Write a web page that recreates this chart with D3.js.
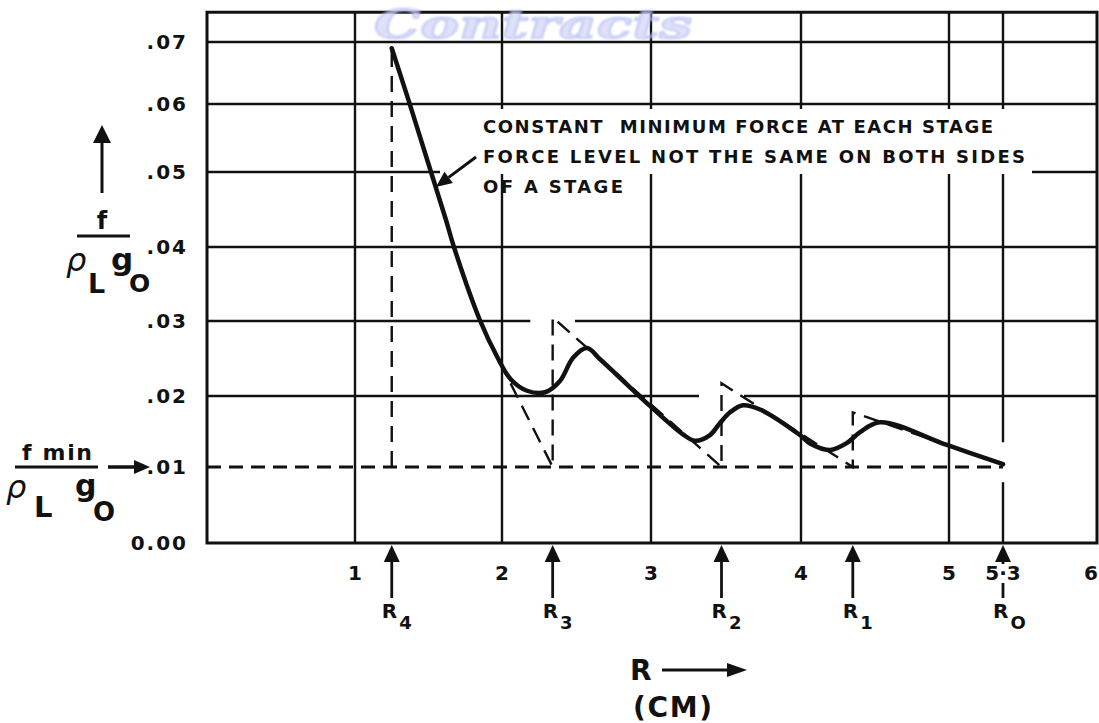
<!DOCTYPE html>
<html>
<head>
<meta charset="utf-8">
<script src="https://cdn.jsdelivr.net/npm/d3@7"></script>
<style>
  html, body { margin: 0; padding: 0; background: #fff; }
  svg { display: block; }
  text { font-family: "DejaVu Sans", sans-serif; font-weight: bold; fill: #111; }
</style>
</head>
<body>
<svg id="chart" width="1099" height="723"></svg>
<script>
// Radius axis (cm): ruled lines and their labels
const rTicks = [0, 1, 2, 3, 4, 5, 5.3, 6];
const rTickLabels = ["", "1", "2", "3", "4", "5", "5·3", "6"];
// Force-ratio axis f / (rho_L g0)
const fTicks = [0, 0.01, 0.02, 0.03, 0.04, 0.05, 0.06, 0.07];
const fTickLabels = ["0.00", ".01", ".02", ".03", ".04", ".05", ".06", ".07"];
const fTop = 0.0748;
const fMin = 0.01;

// Stage boundaries R4 ... R0 and the ideal peak force just past each one
const stageSubs = ["4", "3", "2", "1", "O"];
const stageR = [1.25, 2.34, 3.47, 4.35, 5.3];
const stagePeak = [0.069, 0.0305, 0.0217, 0.0177, null];

// Smoothed force curve
const curveR = [1.25, 1.371, 1.517, 1.619, 1.673, 1.85, 1.973, 2.06, 2.168, 2.289, 2.389, 2.477, 2.57, 2.658, 2.772, 2.993, 3.213, 3.293, 3.393, 3.46, 3.527, 3.613, 3.727, 3.993, 4.061, 4.196, 4.311, 4.399, 4.534, 4.986, 5.3];
const curveF = [0.069, 0.0601, 0.05, 0.0436, 0.04, 0.0301, 0.025, 0.0222, 0.0207, 0.0205, 0.022, 0.0251, 0.0264, 0.0249, 0.0228, 0.0186, 0.0146, 0.0137, 0.0145, 0.0162, 0.0177, 0.0187, 0.0181, 0.0145, 0.0133, 0.0124, 0.0134, 0.0149, 0.0163, 0.0131, 0.0104];

// Ideal sawtooth profile: constant minimum force at each stage
const idealR = [1.25, 1.25, 1.371, 1.517, 1.619, 1.673, 1.85, 1.973, 2.34, 2.34, 3.47, 3.47, 4.35, 4.35, 5.3];
const idealF = [0.01, 0.069, 0.0601, 0.05, 0.0436, 0.04, 0.0301, 0.025, 0.01, 0.0305, 0.01, 0.0217, 0.01, 0.0177, 0.0104];

// Annotation
const noteLines = ["CONSTANT  MINIMUM FORCE AT EACH STAGE", "FORCE LEVEL NOT THE SAME ON BOTH SIDES", "OF A STAGE"];
const noteTarget = [1.55, 0.048];

const svg = d3.select("#chart");
const ink = "#111";

// hand-ruled grid: each ruled line sits at its own measured position
const x = d3.scaleLinear().domain(rTicks).range([207, 355, 502, 651, 801, 949, 1003, 1097]);
const y = d3.scaleLinear().domain(fTicks).range([543, 467, 396, 321, 247, 172, 104, 42]);

const grid = svg.append("g").attr("stroke", ink).attr("stroke-width", 2.4).attr("fill", "none");

// horizontal rulings, broken where a stage peak pokes just above them
const gapHalf = 0.15;
fTicks.filter(f => f > 0 && f !== fMin).forEach(f => {
  const cuts = stageR
    .map((r, i) => ({ r, p: stagePeak[i] }))
    .filter(d => d.p != null && d.p > f && d.p - f < 0.003)
    .map(d => [d.r - gapHalf, d.r + gapHalf])
    .sort((a, b) => a[0] - b[0]);
  const segs = [];
  let start = 0;
  cuts.forEach(c => { segs.push([start, c[0]]); start = c[1]; });
  segs.push([start, 6]);
  segs.forEach(s => {
    grid.append("line")
      .attr("x1", x(s[0])).attr("x2", x(s[1]))
      .attr("y1", y(f)).attr("y2", y(f));
  });
});

// vertical rulings; the R0 line opens up where the curve ends on it
rTicks.filter(r => r > 0 && r < 6).forEach(r => {
  const isStage = stageR.includes(r);
  const segs = isStage ? [[0, fMin - 0.002], [fMin + 0.0035, fTop]] : [[0, fTop]];
  segs.forEach(s => {
    grid.append("line")
      .attr("x1", x(r)).attr("x2", x(r))
      .attr("y1", y(s[0])).attr("y2", y(s[1]));
  });
});

// frame
svg.append("rect")
  .attr("x", x(0)).attr("y", y(fTop))
  .attr("width", x(6) - x(0)).attr("height", y(0) - y(fTop))
  .attr("fill", "none").attr("stroke", ink).attr("stroke-width", 3);

// clear space for the note
svg.append("rect")
  .attr("x", 440).attr("y", y(0.06) + 5)
  .attr("width", 592).attr("height", y(0.05) - y(0.06) - 3)
  .attr("fill", "#fff");

// stamped watermark
svg.append("text")
  .attr("x", 374).attr("y", 38)
  .attr("textLength", 318).attr("lengthAdjust", "spacingAndGlyphs")
  .style("font-family", "'DejaVu Serif', serif")
  .style("font-style", "italic")
  .style("font-size", "40px")
  .style("fill", "#d3d7f8")
  .style("stroke", "#a7b0f0")
  .style("stroke-width", 1.3)
  .style("opacity", 0.75)
  .style("filter", "blur(1px)")
  .text("Contracts");

// minimum-force level
svg.append("line")
  .attr("x1", x(0)).attr("x2", x(stageR[stageR.length - 1]))
  .attr("y1", y(fMin)).attr("y2", y(fMin))
  .attr("stroke", ink).attr("stroke-width", 2.8)
  .attr("stroke-dasharray", "14,8");

// ideal sawtooth profile
const idealPts = idealR.map((r, i) => [r, idealF[i]]);
svg.append("path")
  .attr("d", d3.line().x(d => x(d[0])).y(d => y(d[1]))(idealPts))
  .attr("fill", "none").attr("stroke", ink).attr("stroke-width", 2.4)
  .attr("stroke-dasharray", "16,9");

// smoothed curve
const curvePts = curveR.map((r, i) => [r, curveF[i]]);
svg.append("path")
  .attr("d", d3.line().x(d => x(d[0])).y(d => y(d[1])).curve(d3.curveCatmullRom.alpha(0.5))(curvePts))
  .attr("fill", "none").attr("stroke", ink).attr("stroke-width", 4.5)
  .attr("stroke-linecap", "round").attr("stroke-linejoin", "round");

// arrow helper
function arrow(x1, y1, x2, y2, head, half, w) {
  const ang = Math.atan2(y2 - y1, x2 - x1);
  const bx = x2 - head * Math.cos(ang), by = y2 - head * Math.sin(ang);
  svg.append("line").attr("x1", x1).attr("y1", y1).attr("x2", bx).attr("y2", by)
    .attr("stroke", ink).attr("stroke-width", w);
  const px = -Math.sin(ang) * half, py = Math.cos(ang) * half;
  svg.append("polygon")
    .attr("points", [[x2, y2], [bx + px, by + py], [bx - px, by - py]].map(p => p.join(",")).join(" "))
    .attr("fill", ink);
}

// note text and pointer
const note = svg.append("g").style("font-size", "18px");
const noteLens = [510, 542, 140];
noteLines.forEach((t, i) => {
  note.append("text")
    .attr("x", 483).attr("y", 133 + i * 30)
    .attr("xml:space", "preserve")
    .style("white-space", "pre")
    .attr("textLength", noteLens[i]).attr("lengthAdjust", "spacing")
    .text(t);
});
arrow(476, 157, x(noteTarget[0]), y(noteTarget[1]), 16, 7, 3);

// force tick labels
svg.append("g").selectAll("text").data(fTicks).join("text")
  .attr("x", 188).attr("y", d => y(d)).attr("dy", "0.36em")
  .attr("text-anchor", "end")
  .style("font-size", "20px").style("letter-spacing", "2px")
  .text((d, i) => fTickLabels[i]);

// stage arrows below the axis
stageR.forEach((r, i) => {
  arrow(x(r), 598, x(r), y(0) + 2, 17, 8, 2.8);
  const t = svg.append("text")
    .attr("x", x(r) - 10).attr("y", 618)
    .style("font-size", "20px");
  t.append("tspan").text("R");
  t.append("tspan").attr("dx", 2).attr("dy", 11).style("font-size", "18px").text(stageSubs[i]);
});

// radius tick labels (with a white backing where an arrow passes)
const xl = svg.append("g");
rTicks.forEach((r, i) => {
  if (!rTickLabels[i]) return;
  const t = xl.append("text")
    .attr("x", Math.min(x(r), 1091)).attr("y", 580)
    .attr("text-anchor", "middle")
    .style("font-size", "20px")
    .text(rTickLabels[i]);
  if (stageR.includes(r)) {
    const b = t.node().getBBox();
    xl.insert("rect", "text")
      .attr("x", b.x - 1).attr("y", 564)
      .attr("width", b.width + 2).attr("height", 19)
      .attr("fill", "#fff");
  }
});

// axis title: R (cm)
svg.append("text").attr("x", 630).attr("y", 680).style("font-size", "28px").text("R");
arrow(662, 670, 747, 670, 20, 7, 3);
svg.append("text").attr("x", 633).attr("y", 717)
  .attr("textLength", 79).attr("lengthAdjust", "spacing")
  .style("font-size", "28px").text("(CM)");

// axis title: f / rho_L g0
arrow(102, 193, 102, 125, 18, 9, 3);
svg.append("text").attr("x", 102).attr("y", 229).attr("text-anchor", "middle")
  .style("font-size", "24px").text("f");
svg.append("line").attr("x1", 77).attr("x2", 130).attr("y1", 236).attr("y2", 236)
  .attr("stroke", ink).attr("stroke-width", 3);
svg.append("text").attr("x", 66).attr("y", 271).style("font-size", "32px").style("font-style", "italic").style("font-weight", "normal").text("ρ");
svg.append("text").attr("x", 88).attr("y", 293).style("font-size", "27px").text("L");
svg.append("text").attr("x", 111).attr("y", 270).style("font-size", "31px").text("g");
svg.append("text").attr("x", 129).attr("y", 292).style("font-size", "25px").text("O");

// minimum force marker: f min / rho_L g0 -> .01
svg.append("text").attr("x", 22).attr("y", y(fMin) - 7)
  .attr("textLength", 70).attr("lengthAdjust", "spacing")
  .attr("xml:space", "preserve")
  .style("font-size", "22px").style("white-space", "pre").text("f min");
svg.append("line").attr("x1", 15).attr("x2", 98).attr("y1", y(fMin)).attr("y2", y(fMin))
  .attr("stroke", ink).attr("stroke-width", 3);
arrow(108, y(fMin), 150, y(fMin), 16, 7, 3.5);
svg.append("text").attr("x", 6).attr("y", 498).style("font-size", "32px").style("font-style", "italic").style("font-weight", "normal").text("ρ");
svg.append("text").attr("x", 34).attr("y", 517).style("font-size", "29px").text("L");
svg.append("text").attr("x", 75).attr("y", 496).style("font-size", "30px").text("g");
svg.append("text").attr("x", 93).attr("y", 521).style("font-size", "26px").text("O");
</script>
</body>
</html>
